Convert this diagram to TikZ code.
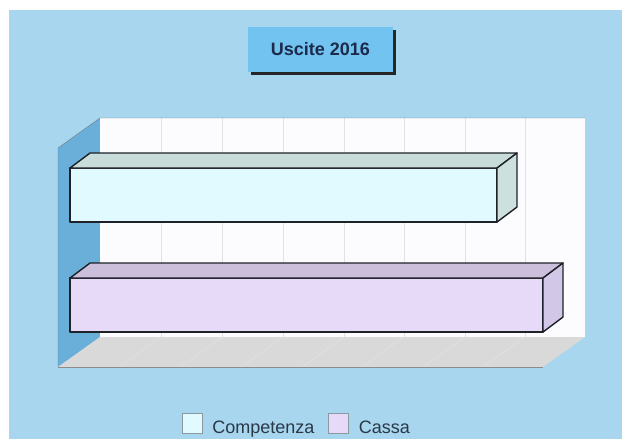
\documentclass[tikz,border=0pt]{standalone}
\usepackage{fontspec}
\setmainfont{Liberation Sans}
\usetikzlibrary{positioning,shadows}
\pgfdeclarelayer{bg}
\pgfsetlayers{bg,main}
\definecolor{skyback}{HTML}{A8D6EE}
\definecolor{wallleft}{HTML}{6AAFD9}
\definecolor{wallback}{HTML}{FCFCFE}
\definecolor{wallline}{HTML}{6F7C86}
\definecolor{gridcol}{HTML}{E2E2E2}
\definecolor{floorgrey}{HTML}{D9D9D9}
\definecolor{floorline}{HTML}{E4E4E4}
\definecolor{flooredge}{HTML}{8C8C8C}
\definecolor{compfront}{HTML}{E0FAFF}
\definecolor{comptop}{HTML}{C8DDDA}
\definecolor{compside}{HTML}{CCE0DE}
\definecolor{cassafront}{HTML}{E7DAF9}
\definecolor{cassatop}{HTML}{CBBFDB}
\definecolor{cassaside}{HTML}{D3C7E7}
\definecolor{barcol}{HTML}{1E2228}
\definecolor{titlefill}{HTML}{72C3F0}
\definecolor{titlecol}{HTML}{1C2A4C}
\definecolor{legendcol}{HTML}{2A3848}
\definecolor{legendedge}{HTML}{8A9AA0}

\begin{document}
\begin{tikzpicture}[x=1pt, y=-1pt,
        barline/.style={draw=barcol, line width=1.4pt, line join=round},
        legendbox/.style={draw=legendedge, minimum size=20pt, inner sep=0pt},
        legendtext/.style={inner sep=0pt, text=legendcol, font=\fontsize{18}{20}\selectfont}]
        \useasboundingbox (0,0) rectangle (622,439);
        \node (title) [fill=titlefill, minimum width=145pt, minimum height=45pt, text=titlecol,
                font=\bfseries\fontsize{18}{20}\selectfont,
                drop shadow={shadow xshift=3pt, shadow yshift=-2.5pt, fill=black!85, opacity=1}] at (320.5,49.5) {Uscite 2016};
        \node (compbox) [legendbox, fill=compfront] at (192,423) {};
        \node (complabel) [legendtext, right=10pt of compbox.south east, anchor=base west] {Competenza};
        \node (cassabox) [legendbox, fill=cassafront] at (338.5,423) {};
        \node (cassalabel) [legendtext, right=10pt of cassabox.south east, anchor=base west] {Cassa};
        \begin{pgfonlayer}{bg}
                \fill[skyback] (9,10) rectangle (622,439);
                \fill[wallleft] (58,148) -- (100,118) -- (100,337) -- (58,367) -- cycle;
                \fill[wallback] (100,118) rectangle (585,337);
                \fill[floorgrey] (58,367) -- (100,337) -- (585,337) -- (543,367) -- cycle;
                \foreach \x in {161,222,283,344,404,465,525} {
                        \draw[gridcol] (\x,118) -- (\x,337);
                        \draw[floorline] (\x,337) -- (\x-42,367);
                }
                \draw[wallline] (58,367) -- (58,148) -- (100,118) -- (585,118);
                \draw[flooredge, line width=1pt] (58,367) -- (543,367);
        \end{pgfonlayer}
        \foreach \yy/\xx/\cf/\ct/\cs in {168/497/compfront/comptop/compside, 278/543/cassafront/cassatop/cassaside} {
                \filldraw[barline, fill=\cf] (70,\yy) rectangle (\xx,\yy+54);
                \filldraw[barline, fill=\ct] (70,\yy) -- (90,\yy-15) -- (\xx+20,\yy-15) -- (\xx,\yy) -- cycle;
                \filldraw[barline, fill=\cs] (\xx,\yy) -- (\xx+20,\yy-15) -- (\xx+20,\yy+39) -- (\xx,\yy+54) -- cycle;
        }
\end{tikzpicture}
\end{document}
